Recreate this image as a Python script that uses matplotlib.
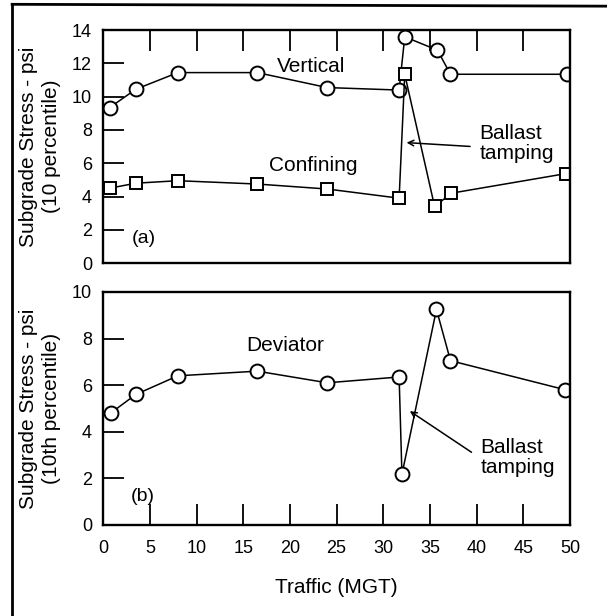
import numpy as np
import matplotlib
matplotlib.use('Agg')
import matplotlib.pyplot as plt
from matplotlib.lines import Line2D

plt.rcParams['font.family'] = ['Liberation Sans', 'DejaVu Sans']

# Datos (trafico en MGT, esfuerzo en psi)
mgt_vert = [0.7, 3.5, 8.0, 16.5, 24.0, 31.7, 32.3, 35.8, 37.2, 49.7]
vertical = [9.35, 10.45, 11.45, 11.45, 10.55, 10.4, 13.6, 12.8, 11.35, 11.35]

mgt_conf = [0.7, 3.5, 8.0, 16.5, 24.0, 31.7, 32.3, 35.5, 37.3, 49.6]
confining = [4.5, 4.8, 4.95, 4.75, 4.45, 3.9, 11.35, 3.4, 4.2, 5.38]

mgt_dev = [0.8, 3.5, 8.0, 16.5, 24.0, 31.7, 32.0, 35.7, 37.2, 49.5]
deviator = [4.8, 5.6, 6.4, 6.6, 6.1, 6.35, 2.17, 9.25, 7.05, 5.8]

xticks = [0, 5, 10, 15, 20, 25, 30, 35, 40, 45, 50]

fig = plt.figure(figsize=(6.07, 6.16), dpi=100)
ax1 = fig.add_axes([0.170, 0.573, 0.769, 0.378])
ax2 = fig.add_axes([0.170, 0.148, 0.769, 0.378])

mk = dict(color='black', lw=1.1, mfc='white', mec='black', mew=1.4)
fs = 15

# Panel (a)
ax1.plot(mgt_vert, vertical, marker='o', ms=10, **mk)
ax1.plot(mgt_conf, confining, marker='s', ms=9, **mk)
ax1.set_xlim(0, 50)
ax1.set_ylim(0, 14)
ax1.set_yticks(range(0, 15, 2))
ax1.set_xticks(xticks[1:-1])
ax1.tick_params(axis='x', direction='in', top=True, bottom=False,
                labelbottom=False, length=15, width=1.3)
ax1.tick_params(axis='y', direction='in', length=15, width=1.3,
                labelsize=13, pad=8)
ax1.set_ylabel('Subgrade Stress - psi\n(10 percentile)', fontsize=fs,
               labelpad=8, linespacing=1.25)
ax1.text(22.3, 11.8, 'Vertical', fontsize=fs, ha='center', va='center')
ax1.text(22.5, 5.85, 'Confining', fontsize=fs, ha='center', va='center')
ax1.text(4.4, 1.5, '(a)', fontsize=14, ha='center', va='center')
ax1.annotate('', xy=(32.2, 7.25), xytext=(39.6, 7.0),
             arrowprops=dict(arrowstyle='->', lw=1.1, color='black'))
ax1.text(40.3, 7.2, 'Ballast\ntamping', fontsize=fs, ha='left', va='center',
         linespacing=1.05)

# Panel (b)
ax2.plot(mgt_dev, deviator, marker='o', ms=10, **mk)
ax2.set_xlim(0, 50)
ax2.set_ylim(0, 10)
ax2.set_yticks(range(0, 11, 2))
ax2.set_xticks(xticks)
ax2.tick_params(axis='x', direction='in', length=15, width=1.3,
                labelsize=13, pad=11)
ax2.tick_params(axis='y', direction='in', length=15, width=1.3,
                labelsize=13, pad=8)
ax2.set_ylabel('Subgrade Stress - psi\n(10th percentile)', fontsize=fs,
               labelpad=8, linespacing=1.25)
ax2.set_xlabel('Traffic (MGT)', fontsize=fs, labelpad=15)
ax2.text(19.5, 7.7, 'Deviator', fontsize=fs, ha='center', va='center')
ax2.text(4.2, 1.2, '(b)', fontsize=14, ha='center', va='center')
ax2.annotate('', xy=(32.6, 4.95), xytext=(39.7, 3.05),
             arrowprops=dict(arrowstyle='->', lw=1.1, color='black'))
ax2.text(40.4, 2.9, 'Ballast\ntamping', fontsize=fs, ha='left', va='center',
         linespacing=1.05)

for ax in (ax1, ax2):
    for s in ax.spines.values():
        s.set_linewidth(1.7)

# Marco exterior (borde izquierdo y superior)
fig.add_artist(Line2D([0.02, 0.02], [0.0, 0.993], color='black', lw=2))
fig.add_artist(Line2D([0.02, 1.0], [0.993, 0.99], color='black', lw=2))

fig.savefig('out.png', dpi=100)
